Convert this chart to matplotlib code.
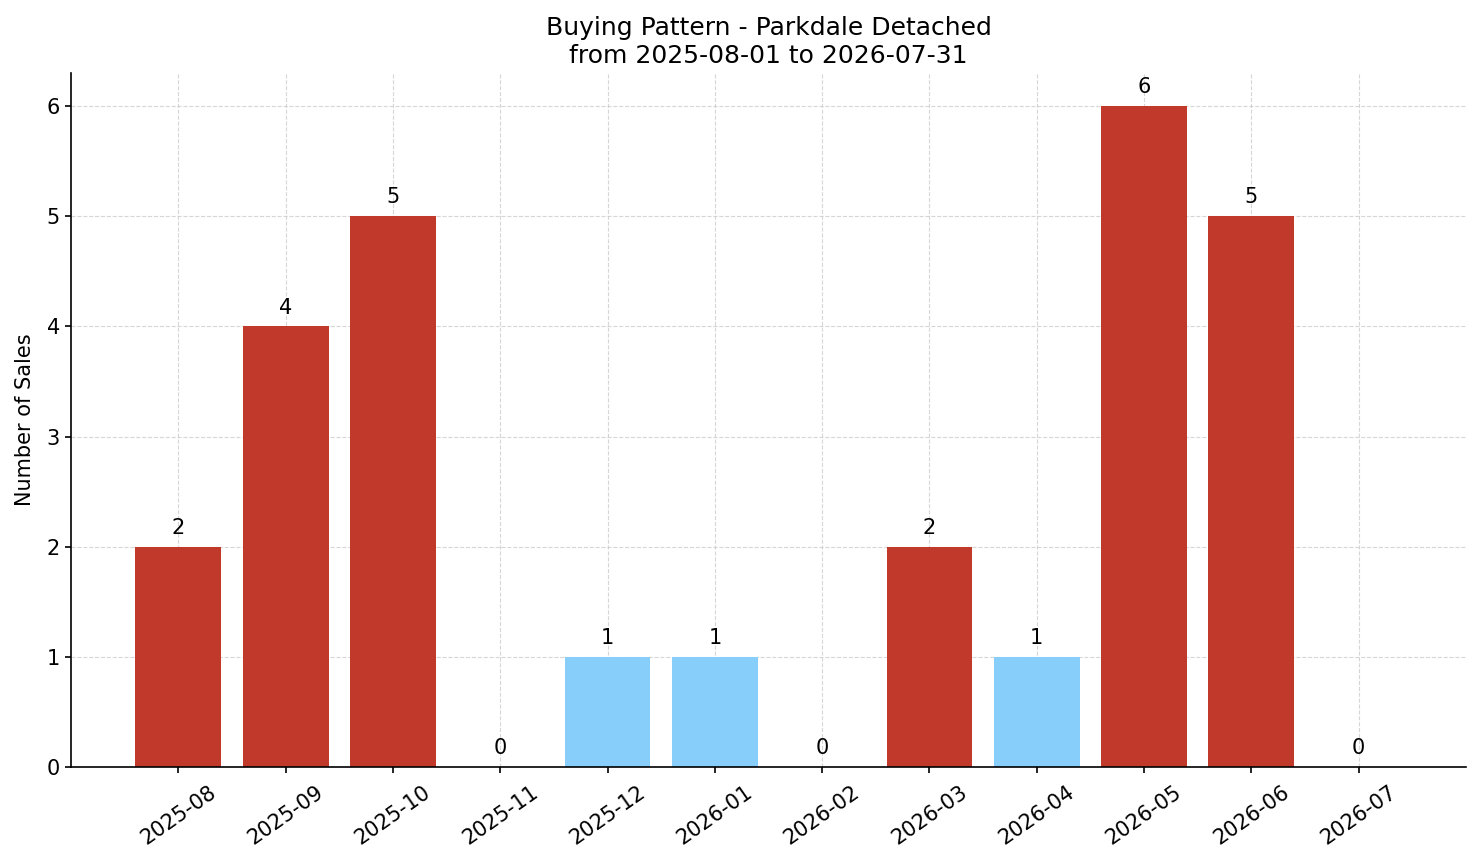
import matplotlib
matplotlib.use("Agg")
import matplotlib.pyplot as plt

months = ["2025-08", "2025-09", "2025-10", "2025-11", "2025-12", "2026-01",
          "2026-02", "2026-03", "2026-04", "2026-05", "2026-06", "2026-07"]
sales = [2, 4, 5, 0, 1, 1, 0, 2, 1, 6, 5, 0]

RED = "#c0392b"
BLUE = "#87cefa"
colors = [RED if v >= 2 else BLUE for v in sales]

fig = plt.figure(figsize=(14.81, 8.63), dpi=100)
ax = fig.add_axes([71 / 1481, 1 - 767 / 863, (1466 - 71) / 1481, (767 - 73) / 863])
x = list(range(len(months)))
ax.bar(x, sales, width=0.8, color=colors, zorder=2)
for xi, v in zip(x, sales):
    ax.text(xi, v + 0.08, str(v), ha="center", va="bottom", fontsize=15)

ax.set_xlim(-1, 12)
ax.set_ylim(0, 6.3)
ax.set_xticks(x)
ax.set_xticklabels(months, rotation=35, ha="center", fontsize=15)
ax.tick_params(axis="both", length=4.5, width=1.2, labelsize=15)
ax.tick_params(axis="x", pad=6)
ax.set_yticks(range(7))
ax.set_ylabel("Number of Sales", fontsize=15, labelpad=8)
ax.set_title("Buying Pattern - Parkdale Detached\nfrom 2025-08-01 to 2026-07-31", fontsize=18, pad=7)
ax.grid(True, linestyle="--", color="#cccccc", alpha=0.8, linewidth=0.8, zorder=0)
ax.set_axisbelow(True)
for s in ("left", "bottom"):
    ax.spines[s].set_linewidth(1.2)
ax.spines["top"].set_visible(False)
ax.spines["right"].set_visible(False)

fig.savefig("out.png", dpi=100)
